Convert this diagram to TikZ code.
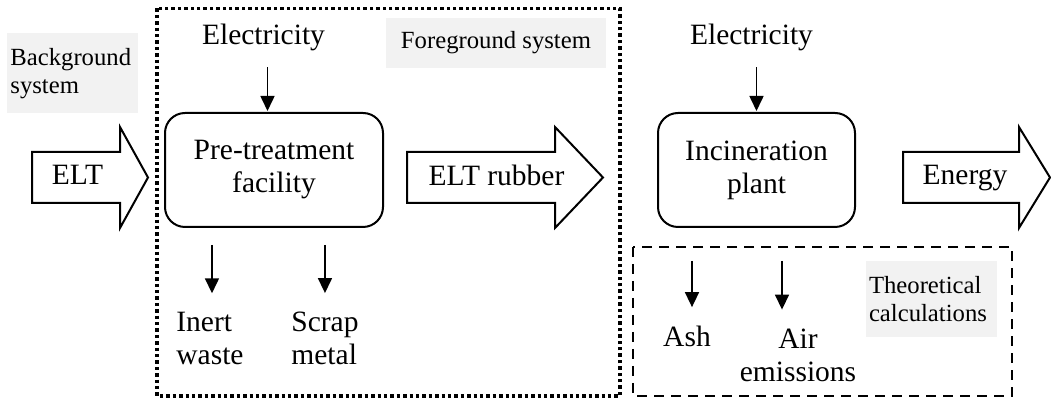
\documentclass[tikz,border=0pt]{standalone}
\usepackage{fontspec}
\setmainfont{Liberation Serif}
\usetikzlibrary{arrows.meta}
\definecolor{notefill}{RGB}{242,242,242}
\newcommand\fsmain{\fontsize{14.75pt}{16.5pt}\selectfont}
\newcommand\fsnote{\fontsize{12.35pt}{13.75pt}\selectfont}
\begin{document}
\begin{tikzpicture}[x=0.5pt,y=-0.5pt,
  txt/.style={font=\fsmain, inner sep=0pt},
  proc/.style={draw, line width=1pt, rounded corners=10pt, font=\fsmain,
    align=center, minimum height=57pt},
  note/.style={fill=notefill, font=\fsnote, align=left, inner xsep=1.5pt,
    inner ysep=0pt},
  flow/.style={line width=0.8pt, -{Triangle[length=7.5pt,width=7pt]}},
  bigarrow/.style={draw, line width=1pt, fill=white, line join=miter},
  sysframe/.style={line width=1.7pt, dash pattern=on 1.7pt off 1.5pt},
  calcframe/.style={line width=1.2pt, dash pattern=on 5pt off 3.5pt}]
\useasboundingbox (0,0) rectangle (1051,400);

% system boundaries
\draw[sysframe] (157,8.5) rectangle (620,396);
\draw[calcframe] (633,247) rectangle (1012,396);

% shaded captions
\node[note, anchor=north west, minimum width=65.5pt, minimum height=40pt,
  text width=62.5pt] (bgsys) at (7,33) {Background\\system};
\node[note, minimum width=110pt, minimum height=25pt, align=center]
  (fgsys) at (496,43) {Foreground system};
\node[note, minimum width=65.5pt, minimum height=38pt, text width=62.5pt]
  (theo) at (931.5,299) {Theoretical\\calculations};

% process units
\node[proc, minimum width=109pt] (pre) at (274,170) {Pre-treatment\\facility};
\node[proc, minimum width=98.5pt] (inc) at (756.5,170) {Incineration\\plant};

% main material and energy flows
\draw[bigarrow] (32,152) -- (120,152) -- (120,127) -- (148,177.5)
  -- (120,228) -- (120,203) -- (32,203) -- cycle;
\node[txt, anchor=base] (elt) at (77.5,185) {ELT};
\draw[bigarrow] (407,152) -- (555,152) -- (555,127) -- (603,177.5)
  -- (555,228) -- (555,203) -- (407,203) -- cycle;
\node[txt, anchor=base] (rubber) at (496.5,186) {ELT rubber};
\draw[bigarrow] (903,152) -- (1019,152) -- (1019,127) -- (1050,177.5)
  -- (1019,228) -- (1019,203) -- (903,203) -- cycle;
\node[txt, anchor=base] (energy) at (965,185) {Energy};

% inputs
\node[txt, anchor=base] (elec1) at (263.5,45) {Electricity};
\node[txt, anchor=base] (elec2) at (751.5,45) {Electricity};
\draw[flow, shorten <=7.8pt, shorten >=0.5pt]
  ([xshift=2pt]elec1.south) -- ([xshift=2pt]elec1.south |- pre.north);
\draw[flow, shorten <=7.8pt, shorten >=0.5pt]
  ([xshift=2.5pt]elec2.south) -- ([xshift=2.5pt]elec2.south |- inc.north);

% outputs (base anchor sits on the last line)
\node[txt, anchor=base west, align=left] (inert) at (176,365) {Inert\\waste};
\node[txt, anchor=base west, align=left] (scrap) at (291,365) {Scrap\\metal};
\node[txt, anchor=base] (ash) at (687,347) {Ash};
\node[txt, anchor=base, align=center] (air) at (798,381.5) {Air\\emissions};

\draw[flow, shorten <=8.5pt, shorten >=9.5pt]
  ([xshift=1pt]pre.south -| inert.north) -- ([xshift=1pt]inert.north);
\draw[flow, shorten <=8.5pt, shorten >=9.5pt]
  (pre.south -| scrap.north) -- (scrap.north);
\draw[flow, shorten <=16.5pt, shorten >=9.5pt]
  ([xshift=2.5pt]inc.south -| ash.north) -- ([xshift=2.5pt]ash.north);
\draw[flow, shorten <=16.5pt, shorten >=9.5pt]
  ([xshift=-8pt]inc.south -| air.north) -- ([xshift=-8pt]air.north);
\end{tikzpicture}
\end{document}
